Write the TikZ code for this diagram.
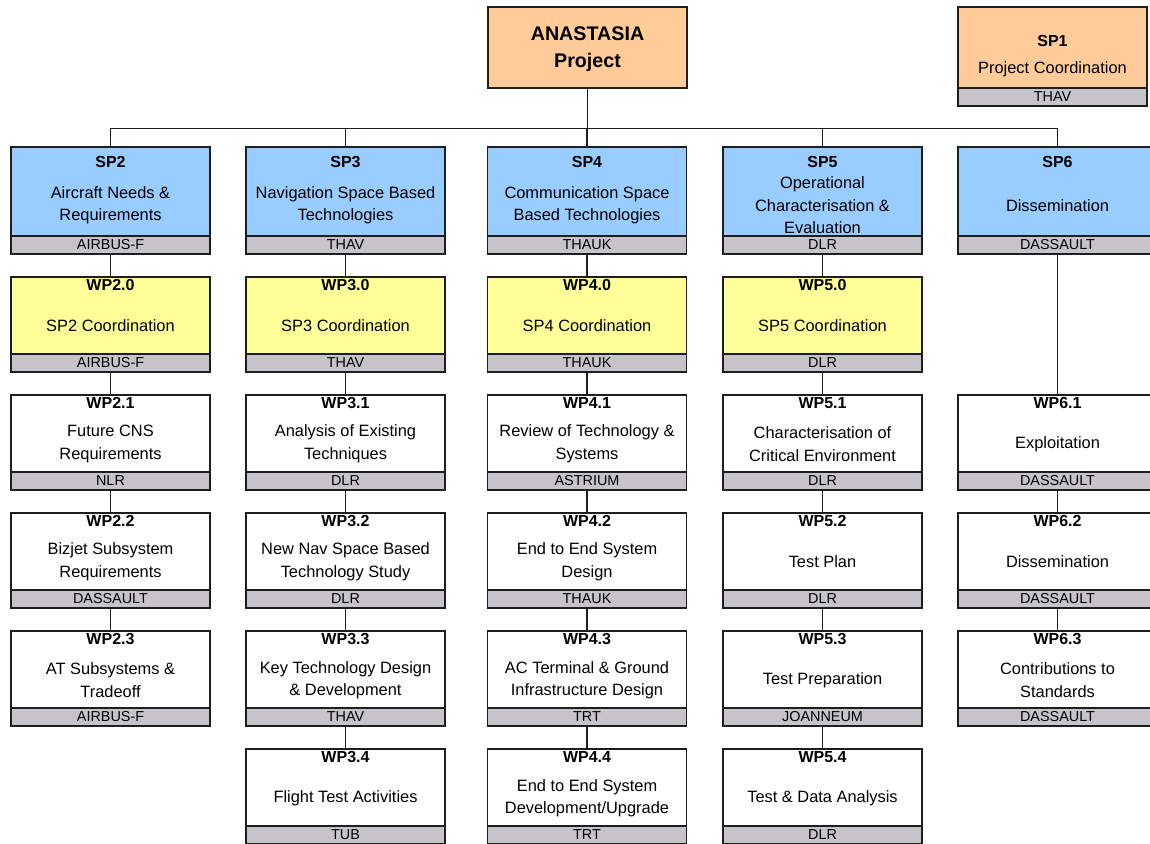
\documentclass[tikz,border=0pt]{standalone}
\usepackage{fontspec}
\setmainfont{Liberation Sans}
\usetikzlibrary{calc}
\definecolor{peach}{RGB}{255,204,153}
\definecolor{spblue}{RGB}{153,204,255}
\definecolor{wpyellow}{RGB}{255,255,153}
\definecolor{bandgray}{RGB}{198,196,200}
\definecolor{edge}{RGB}{30,30,30}
\newcommand\lbloff{14}
\newcommand\bodyoff{47}
\newcommand\wpbox[8]{%
  \node[mainbox, fill=#5, minimum height=#4, anchor=north] (#1) at (#2,#3) {};
  \node[bandbox, anchor=north] (#1b) at (#1.south) {#8};
  \node[lbl, anchor=base] (#1l) at ($(#1.north)+(0,\lbloff)$) {#6};
  \node[body] (#1t) at ($(#1.north)+(0,\bodyoff)$) {#7};
}
\begin{document}
\begin{tikzpicture}[x=1pt,y=-1pt,
  mainbox/.style={draw=edge, line width=1.3pt, rectangle, minimum width=199, inner sep=0pt, outer sep=0pt},
  bandbox/.style={draw=edge, fill=bandgray, line width=1.3pt, rectangle, minimum width=199, minimum height=18, inner sep=0pt, outer sep=0pt, font=\fontsize{14.4}{16}\selectfont},
  lbl/.style={inner sep=0pt, font=\bfseries\fontsize{16}{18}\selectfont},
  body/.style={inner sep=0pt, align=center, font=\fontsize{16.4}{22.5}\selectfont},
  conn/.style={draw=edge, line width=1.3pt}]
\useasboundingbox (0,0) rectangle (1150,843);
\fill[white] (0,0) rectangle (1150,843);
\clip (0,0) rectangle (1150,843);

% top
\node[mainbox, fill=peach, minimum height=81, anchor=north] (top) at (587.5,7) {};
\node[inner sep=0pt, align=center, font=\bfseries\fontsize{19.7}{27}\selectfont] (topt) at ($(top.center)+(0,2)$) {ANASTASIA\\Project};

% SP1
\node[mainbox, fill=peach, minimum width=189, minimum height=81, anchor=north] (sp1) at (1052.5,7) {};
\node[bandbox, minimum width=189, anchor=north] (sp1b) at (sp1.south) {THAV};
\node[lbl, anchor=base] (sp1l) at ($(sp1.north)+(0,39.5)$) {SP1};
\node[body] (sp1t) at ($(sp1.north)+(0,62.5)$) {Project Coordination};

% SP row
\renewcommand\lbloff{20.5}
\renewcommand\bodyoff{58.5}
\wpbox{sp2}{110.5}{147}{89}{spblue}{SP2}{Aircraft Needs \&\\Requirements}{AIRBUS-F}
\wpbox{sp3}{345.5}{147}{89}{spblue}{SP3}{Navigation Space Based\\Technologies}{THAV}
\wpbox{sp4}{587}{147}{89}{spblue}{SP4}{Communication Space\\Based Technologies}{THAUK}
\wpbox{sp5}{822.5}{147}{89}{spblue}{SP5}{Operational\\Characterisation \&\\Evaluation}{DLR}
\wpbox{sp6}{1057.5}{147}{89}{spblue}{SP6}{Dissemination}{DASSAULT}

% WP rows
\renewcommand\lbloff{13.5}
\renewcommand\bodyoff{49}
\wpbox{wp20}{110.5}{277}{77}{wpyellow}{WP2.0}{SP2 Coordination}{AIRBUS-F}
\wpbox{wp21}{110.5}{395}{77}{white}{WP2.1}{Future CNS\\Requirements}{NLR}
\wpbox{wp22}{110.5}{513}{77}{white}{WP2.2}{Bizjet Subsystem\\Requirements}{DASSAULT}
\wpbox{wp23}{110.5}{631}{77}{white}{WP2.3}{AT Subsystems \&\\Tradeoff}{AIRBUS-F}

\wpbox{wp30}{345.5}{277}{77}{wpyellow}{WP3.0}{SP3 Coordination}{THAV}
\wpbox{wp31}{345.5}{395}{77}{white}{WP3.1}{Analysis of Existing\\Techniques}{DLR}
\wpbox{wp32}{345.5}{513}{77}{white}{WP3.2}{New Nav Space Based\\Technology Study}{DLR}
\wpbox{wp33}{345.5}{631}{77}{white}{WP3.3}{Key Technology Design\\\& Development}{THAV}
\wpbox{wp34}{345.5}{749}{77}{white}{WP3.4}{Flight Test Activities}{TUB}

\wpbox{wp40}{587}{277}{77}{wpyellow}{WP4.0}{SP4 Coordination}{THAUK}
\wpbox{wp41}{587}{395}{77}{white}{WP4.1}{Review of Technology \&\\Systems}{ASTRIUM}
\wpbox{wp42}{587}{513}{77}{white}{WP4.2}{End to End System\\Design}{THAUK}
\wpbox{wp43}{587}{631}{77}{white}{WP4.3}{AC Terminal \& Ground\\Infrastructure Design}{TRT}
\wpbox{wp44}{587}{749}{77}{white}{WP4.4}{End to End System\\Development/Upgrade}{TRT}

\wpbox{wp50}{822.5}{277}{77}{wpyellow}{WP5.0}{SP5 Coordination}{DLR}
\wpbox{wp51}{822.5}{395}{77}{white}{WP5.1}{Characterisation of\\Critical Environment}{DLR}
\wpbox{wp52}{822.5}{513}{77}{white}{WP5.2}{Test Plan}{DLR}
\wpbox{wp53}{822.5}{631}{77}{white}{WP5.3}{Test Preparation}{JOANNEUM}
\wpbox{wp54}{822.5}{749}{77}{white}{WP5.4}{Test \& Data Analysis}{DLR}

\wpbox{wp61}{1057.5}{395}{77}{white}{WP6.1}{Exploitation}{DASSAULT}
\wpbox{wp62}{1057.5}{513}{77}{white}{WP6.2}{Dissemination}{DASSAULT}
\wpbox{wp63}{1057.5}{631}{77}{white}{WP6.3}{Contributions to\\Standards}{DASSAULT}

% connectors
\coordinate (bus) at (0,128.5);
\draw[conn] (top.south) -- (top.south |- bus);
\draw[conn] (sp2.north) -- (sp2.north |- bus) -- (sp6.north |- bus) -- (sp6.north);
\draw[conn] (sp3.north) -- (sp3.north |- bus);
\draw[conn] (sp4.north) -- (sp4.north |- bus);
\draw[conn] (sp5.north) -- (sp5.north |- bus);

\draw[conn] (sp2b.south) -- (wp20.north);
\draw[conn] (wp20b.south) -- (wp21.north);
\draw[conn] (wp21b.south) -- (wp22.north);
\draw[conn] (wp22b.south) -- (wp23.north);

\draw[conn] (sp3b.south) -- (wp30.north);
\draw[conn] (wp30b.south) -- (wp31.north);
\draw[conn] (wp31b.south) -- (wp32.north);
\draw[conn] (wp32b.south) -- (wp33.north);
\draw[conn] (wp33b.south) -- (wp34.north);

\draw[conn] (sp4b.south) -- (wp40.north);
\draw[conn] (wp40b.south) -- (wp41.north);
\draw[conn] (wp41b.south) -- (wp42.north);
\draw[conn] (wp42b.south) -- (wp43.north);
\draw[conn] (wp43b.south) -- (wp44.north);

\draw[conn] (sp5b.south) -- (wp50.north);
\draw[conn] (wp50b.south) -- (wp51.north);
\draw[conn] (wp51b.south) -- (wp52.north);
\draw[conn] (wp52b.south) -- (wp53.north);
\draw[conn] (wp53b.south) -- (wp54.north);

\draw[conn] (sp6b.south) -- (wp61.north);
\draw[conn] (wp61b.south) -- (wp62.north);
\draw[conn] (wp62b.south) -- (wp63.north);
\end{tikzpicture}
\end{document}
